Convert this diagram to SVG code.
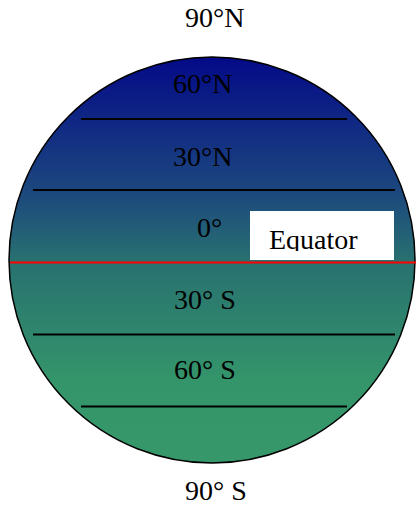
<svg xmlns="http://www.w3.org/2000/svg" width="416" height="506" viewBox="0 0 416 506">
<style>
text{font-family:"Liberation Serif","Times New Roman",serif;font-size:28px;fill:#000}
.lat{stroke:#000;stroke-width:2;fill:none}
</style>
<defs>
<linearGradient id="g" x1="0" y1="0" x2="0" y2="1">
<stop offset="0" stop-color="#040a88"/>
<stop offset="0.33" stop-color="#1c477e"/>
<stop offset="0.5" stop-color="#287070"/>
<stop offset="0.8" stop-color="#34956a"/>
<stop offset="1" stop-color="#36986a"/>
</linearGradient>
<clipPath id="eqclip"><rect x="250" y="211" width="144" height="40"/></clipPath>
</defs>
<g id="globe">
<circle cx="212" cy="260" r="203" fill="url(#g)" stroke="#000" stroke-width="1.5"/>
</g>
<g id="connectors">
<line class="lat" x1="81" y1="119" x2="347" y2="119"/>
<line class="lat" x1="33" y1="190" x2="395" y2="190"/>
<line class="lat" x1="33" y1="334.5" x2="395" y2="334.5"/>
<line class="lat" x1="81" y1="406.5" x2="347" y2="406.5"/>
<line x1="10" y1="262.5" x2="416" y2="262.5" stroke="#ff0000" stroke-width="2"/>
</g>
<g id="labels">
<text x="185" y="27">90°N</text>
<text x="173" y="93">60°N</text>
<text x="173" y="166">30°N</text>
<text x="197" y="237">0°</text>
<text x="174" y="309">30° S</text>
<text x="174" y="379">60° S</text>
<text x="185" y="500">90° S</text>
</g>
<g id="equator">
<rect x="250" y="211" width="144" height="49" fill="#fff"/>
<text x="269" y="249" font-family="Liberation Serif, serif" font-size="29" clip-path="url(#eqclip)">Equator</text>
</g>
</svg>
